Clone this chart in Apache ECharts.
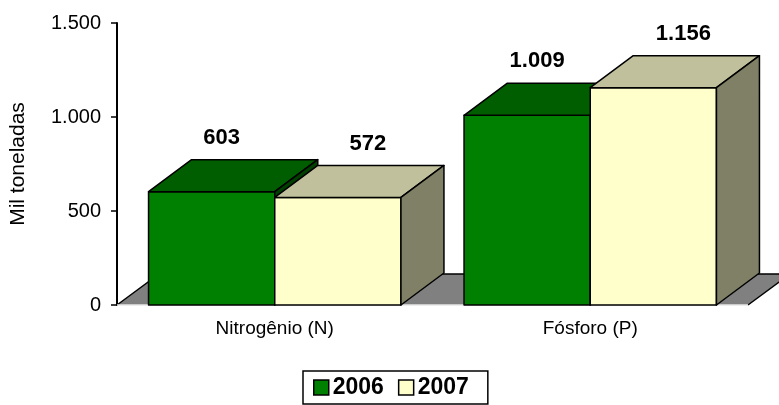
<!DOCTYPE html>
<html>
<head>
<meta charset="utf-8">
<script src="https://cdn.jsdelivr.net/npm/echarts@6/dist/echarts.min.js"></script>
<style>
html, body { margin: 0; padding: 0; background: #fff; }
#chart { width: 779px; height: 405px; }
</style>
</head>
<body>
<div id="chart"></div>
<script>
const categories = ['Nitrogênio (N)', 'Fósforo (P)']
const years = ['2006', '2007']
const values2006 = [603, 1009]
const values2007 = [572, 1156]
const yMin = 0
const yMax = 1500
const yStep = 500

const FONT = 'Liberation Sans, Arial, sans-serif'
// 3D depth of the bars (pixels)
const DX = 43
const DY = -32
// colours: front, top, side
const faces = [
    ['#008000', '#005e00', '#004000'],
    ['#ffffcc', '#c0c09c', '#808066']
]

function fmt(v) {
    return String(v).replace(/\B(?=(\d{3})+(?!\d))/g, '.')
}

function barRender(s) {
    return function (params, api) {
        let c = api.coord([api.value(0), api.value(1)])
        let base = api.coord([api.value(0), 0])
        let band = api.size([1, 0])[0]
        let bw = band * 0.4
        let x0 = c[0] - bw + s * bw
        let x1 = x0 + bw
        let yt = c[1]
        let yb = base[1]
        let st = { stroke: '#000', lineWidth: 1.5, lineJoin: 'round' }
        let lblDx = s === 0 ? 10 : 30
        return {
            type: 'group',
            children: [
                {
                    type: 'rect',
                    shape: { x: x0, y: yt, width: bw, height: yb - yt },
                    style: Object.assign({ fill: faces[s][0] }, st)
                },
                {
                    type: 'polygon',
                    shape: { points: [[x0, yt], [x0 + DX, yt + DY], [x1 + DX, yt + DY], [x1, yt]] },
                    style: Object.assign({ fill: faces[s][1] }, st)
                },
                {
                    type: 'polygon',
                    shape: { points: [[x1, yt], [x1 + DX, yt + DY], [x1 + DX, yb + DY], [x1, yb]] },
                    style: Object.assign({ fill: faces[s][2] }, st)
                },
                {
                    type: 'text',
                    x: x0 + bw / 2 + lblDx,
                    y: yt + DY - 22,
                    style: {
                        text: fmt(api.value(1)),
                        fill: '#000',
                        font: 'bold 22px ' + FONT,
                        align: 'center',
                        verticalAlign: 'middle'
                    }
                }
            ]
        }
    }
}

function floorRender(params, api) {
    let cs = params.coordSys
    let yb = cs.y + cs.height
    let xl = cs.x
    let xr = cs.x + cs.width
    let fdx = 42
    let fdy = -31
    return {
        type: 'group',
        children: [
            {
                type: 'polygon',
                shape: { points: [[xl, yb], [xl + fdx, yb + fdy], [xr + fdx, yb + fdy], [xr, yb]] },
                style: { fill: '#808080' }
            },
            {
                type: 'polyline',
                shape: { points: [[xl, yb], [xl + fdx, yb + fdy], [xr + fdx, yb + fdy], [xr, yb]] },
                style: { stroke: '#000', lineWidth: 1.5, fill: null }
            },
            {
                type: 'line',
                shape: { x1: xl, y1: yb, x2: xr, y2: yb },
                style: { stroke: '#e6e6e6', lineWidth: 1.5 }
            }
        ]
    }
}

let myChart = echarts.init(document.getElementById('chart'))
let option = {
    animation: false,
    backgroundColor: '#fff',
    textStyle: { fontFamily: FONT },
    grid: { left: 116, right: 31, top: 23, bottom: 100 },
    legend: {
        data: [
            { name: years[0], itemStyle: { color: faces[0][0], borderColor: '#000', borderWidth: 1.5 } },
            { name: years[1], itemStyle: { color: faces[1][0], borderColor: '#000', borderWidth: 1.5 } }
        ],
        left: 303,
        top: 371,
        icon: 'rect',
        itemWidth: 15,
        itemHeight: 15,
        itemGap: 14,
        padding: [5, 19, 5, 10],
        borderColor: '#000',
        borderWidth: 1.5,
        textStyle: { fontSize: 23, fontWeight: 'bold', color: '#000', fontFamily: FONT, padding: [0, 0, 0, -1] }
    },
    xAxis: {
        type: 'category',
        data: categories,
        axisLine: { show: false },
        axisTick: { show: false },
        axisLabel: { fontSize: 19, color: '#000', margin: 14, fontFamily: FONT }
    },
    yAxis: {
        type: 'value',
        min: yMin,
        max: yMax,
        interval: yStep,
        name: 'Mil toneladas',
        nameLocation: 'middle',
        nameGap: 88,
        nameTextStyle: { fontSize: 21, color: '#000', fontFamily: FONT },
        axisLine: { show: true, lineStyle: { color: '#000', width: 2 } },
        axisTick: { show: true, length: 6, lineStyle: { color: '#000', width: 1.5 } },
        axisLabel: { fontSize: 20, color: '#000', margin: 16, fontFamily: FONT, formatter: fmt },
        splitLine: { show: false }
    },
    series: [
        {
            type: 'custom',
            renderItem: floorRender,
            data: [[0, 0]],
            clip: false,
            silent: true,
            z: 1
        },
        {
            name: years[0],
            type: 'custom',
            renderItem: barRender(0),
            data: categories.map((c, i) => [i, values2006[i]]),
            itemStyle: { color: faces[0][0] },
            clip: false,
            z: 2
        },
        {
            name: years[1],
            type: 'custom',
            renderItem: barRender(1),
            data: categories.map((c, i) => [i, values2007[i]]),
            itemStyle: { color: faces[1][0] },
            clip: false,
            z: 3
        }
    ]
}
myChart.setOption(option)
window.addEventListener('resize', function () {
    myChart.resize()
})
</script>
</body>
</html>
